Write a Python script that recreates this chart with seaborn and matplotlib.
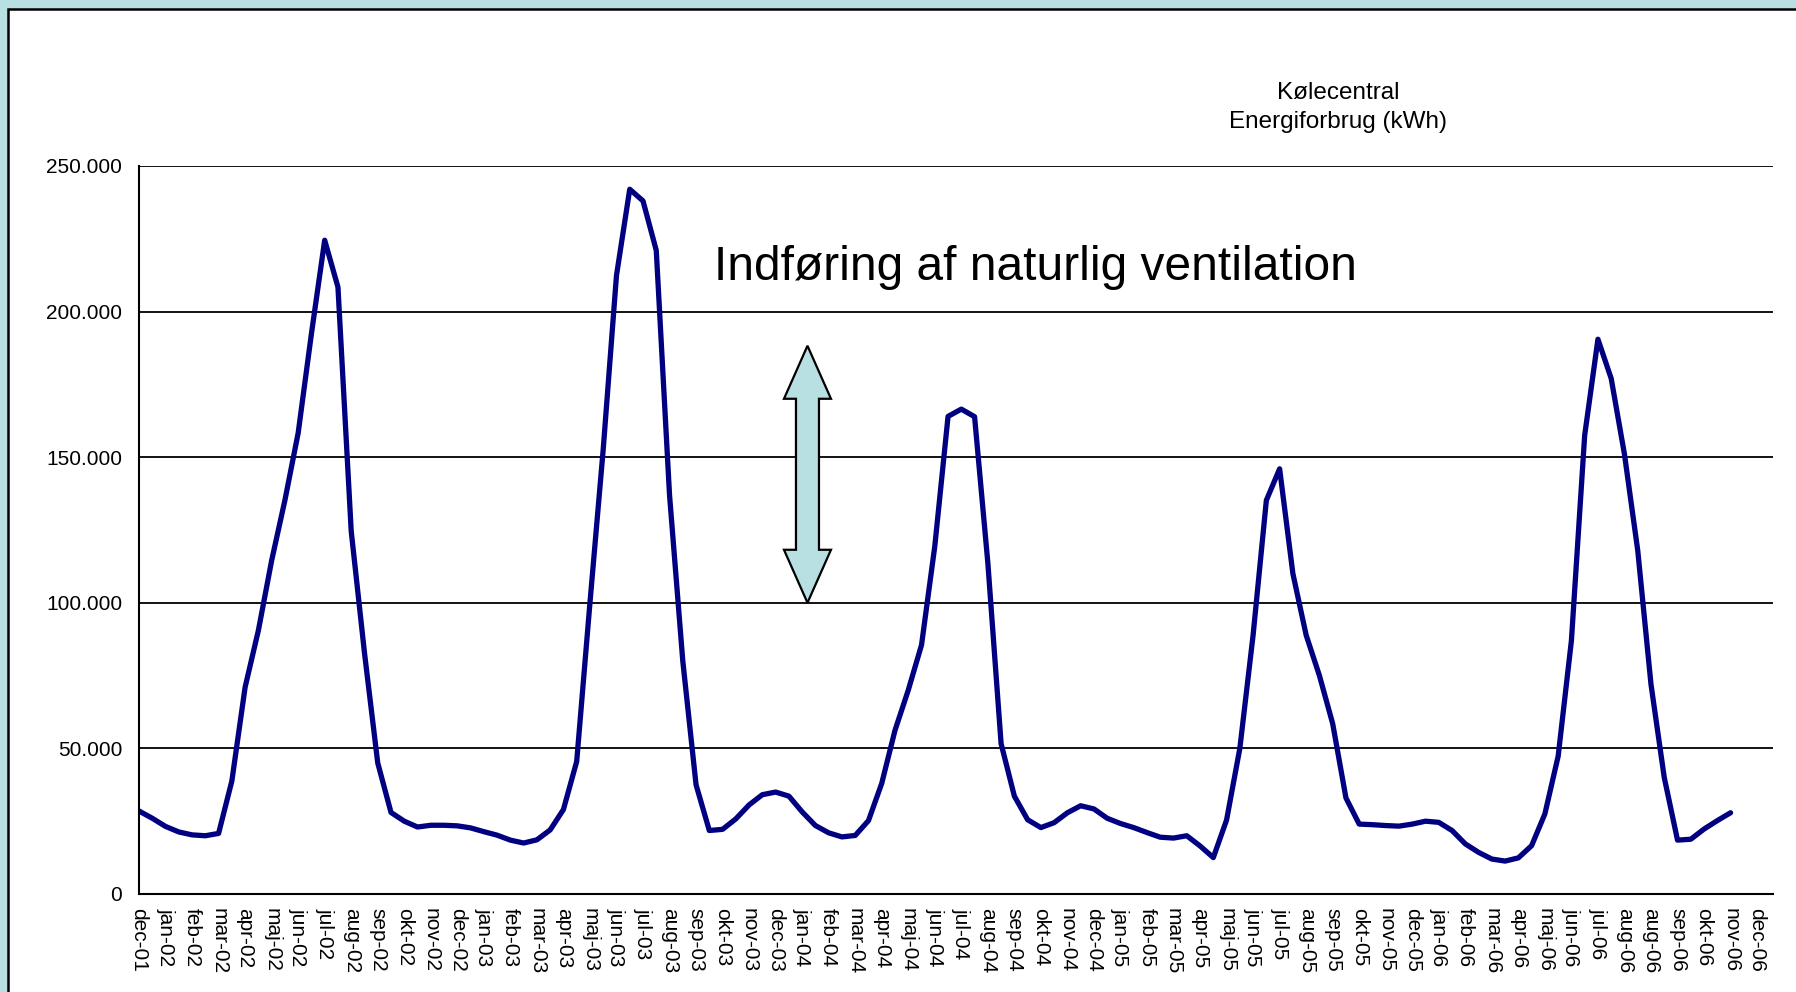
import numpy as np
import matplotlib
matplotlib.use("Agg")
import matplotlib.pyplot as plt
import matplotlib.patches as mpatches
from matplotlib.ticker import FuncFormatter
import seaborn as sns

# tick labels on the date axis (the source chart repeats aug-06)
tick_labels = [
    "dec-01",
    "jan-02", "feb-02", "mar-02", "apr-02", "maj-02", "jun-02",
    "jul-02", "aug-02", "sep-02", "okt-02", "nov-02", "dec-02",
    "jan-03", "feb-03", "mar-03", "apr-03", "maj-03", "jun-03",
    "jul-03", "aug-03", "sep-03", "okt-03", "nov-03", "dec-03",
    "jan-04", "feb-04", "mar-04", "apr-04", "maj-04", "jun-04",
    "jul-04", "aug-04", "sep-04", "okt-04", "nov-04", "dec-04",
    "jan-05", "feb-05", "mar-05", "apr-05", "maj-05", "jun-05",
    "jul-05", "aug-05", "sep-05", "okt-05", "nov-05", "dec-05",
    "jan-06", "feb-06", "mar-06", "apr-06", "maj-06", "jun-06",
    "jul-06", "aug-06", "aug-06", "sep-06", "okt-06", "nov-06", "dec-06",
]

# readings every half month, counted from dec-01
period = np.arange(0, 60.5, 0.5)
energy_kwh = [
    28500, 26000, 23200, 21300, 20300, 20000, 20800, 38800, 71000, 90500,
    114500, 135200, 158300, 192400, 224500, 208400, 124600, 82800, 45000, 28000,
    25000, 23000, 23600, 23600, 23400, 22700, 21400, 20200, 18500, 17500,
    18600, 22000, 29000, 45500, 100000, 152700, 212400, 242000, 238000, 221000,
    137000, 80000, 37500, 21800, 22200, 25800, 30600, 34100, 35000, 33600,
    28200, 23500, 21000, 19600, 20100, 25200, 38000, 56200, 70000, 85500,
    119400, 164000, 166500, 163900, 113700, 51600, 33600, 25500, 22800, 24500,
    27900, 30300, 29200, 26000, 24200, 22800, 21100, 19500, 19200, 20000,
    16500, 12500, 25400, 50000, 88900, 135200, 146000, 110000, 88900, 75000,
    58500, 33000, 24000, 23800, 23500, 23300, 24000, 25000, 24600, 21800,
    17200, 14300, 12000, 11300, 12400, 16600, 27500, 47300, 87000, 157500,
    190500, 177000, 151000, 118000, 72000, 40000, 18500, 18800, 22300, 25200,
    27900,
]

sns.set_style("white")
plt.rcParams["font.family"] = ["Liberation Sans", "DejaVu Sans"]
plt.rcParams["text.color"] = "black"

frame_blue = "#B8DFE2"
fig = plt.figure(figsize=(17.96, 9.92), dpi=100, facecolor=frame_blue)

# white chart area with a black border, behind the axes
panel = mpatches.Rectangle((8 / 1796, -0.02), 1.0, 1 - 9 / 992 + 0.02,
                           transform=fig.transFigure, facecolor="white",
                           edgecolor="black", linewidth=1.8, zorder=-10)
fig.add_artist(panel)

ax = fig.add_axes([0.0774, 0.0988, 0.9098, 0.7339])
ax.set_facecolor("white")

sns.lineplot(x=period, y=energy_kwh, ax=ax, color="#000080", linewidth=3.8)

ax.set_xlim(0, 61.6)
ax.set_ylim(0, 250000)
ax.set_yticks(np.arange(0, 250001, 50000))
ax.yaxis.set_major_formatter(FuncFormatter(lambda v, p: f"{int(v):,}".replace(",", ".")))
ax.set_xticks(range(len(tick_labels)))
ax.set_xticklabels(tick_labels, rotation=270, ha="center", va="top")
ax.set_xlabel("")
ax.set_ylabel("")

ax.set_axisbelow(True)
ax.yaxis.grid(True, color="black", linewidth=1.3)
ax.xaxis.grid(False)
for side in ["top", "right"]:
    ax.spines[side].set_visible(False)
for side in ["left", "bottom"]:
    ax.spines[side].set_color("black")
    ax.spines[side].set_linewidth(1.5)
ax.tick_params(axis="both", direction="out", length=7, width=1.3,
               color="black", labelcolor="black")
ax.tick_params(axis="x", pad=3, labelsize=15)
ax.tick_params(axis="y", pad=5, labelsize=15)

fig.text(0.745, 0.892, "Kølecentral\nEnergiforbrug (kWh)", ha="center",
         va="center", fontsize=17.5, linespacing=1.4, color="black")

ax.text(33.8, 215000, "Indføring af naturlig ventilation", ha="center",
        va="center", fontsize=34.5, color="black")

# double-headed block arrow (sizes in pixels, converted to axes fraction)
ax_w, ax_h = 1634.0, 728.0
cx, base = 0.4091, 0.40
shape = [(0, 0), (23.5, 53), (11.5, 53), (11.5, 204), (23.5, 204), (0, 257),
         (-23.5, 204), (-11.5, 204), (-11.5, 53), (-23.5, 53)]
pts = [(cx + px / ax_w, base + py / ax_h) for px, py in shape]
arrow = mpatches.Polygon(pts, closed=True, transform=ax.transAxes,
                         facecolor=frame_blue, edgecolor="black", linewidth=1.6,
                         zorder=3)
ax.add_patch(arrow)

fig.savefig("out.png", dpi=100, facecolor=fig.get_facecolor())
